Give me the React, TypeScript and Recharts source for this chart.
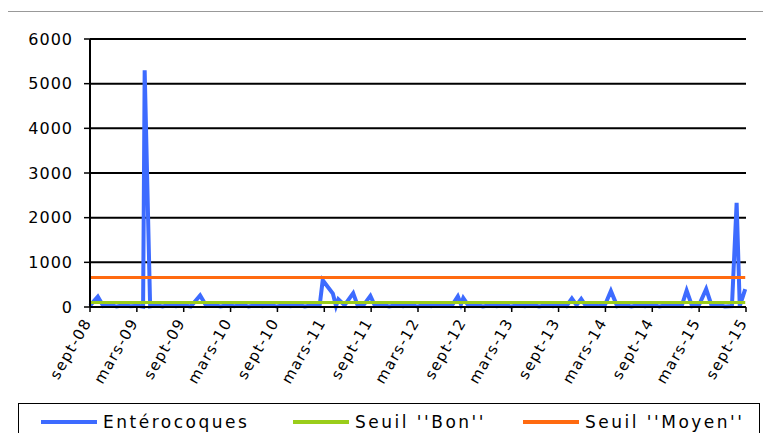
import { CartesianGrid, Line, LineChart, XAxis, YAxis } from 'recharts';

// months counted from sept-08 (0) to sept-15 (84)
const mois = [
    0, 1.0, 1.7, 2.6, 3.4, 4.3, 5.2, 6.1, 6.8, 7.0, 7.7, 8.5, 9.3, 10.2, 11.0, 12.0, 12.9, 14.1, 14.9, 15.8,
    16.7, 17.6, 18.5, 19.4, 20.3, 21.2, 22.1, 23.0, 23.9, 24.8, 25.7, 26.6, 27.5, 28.4, 29.4, 29.8, 31.1, 31.5,
    31.8, 32.6, 33.7, 34.3, 35.1, 35.9, 36.5, 37.4, 38.3, 39.2, 40.1, 41.0, 41.9, 42.8, 43.7, 44.6, 45.5, 46.4,
    47.1, 47.5, 47.8, 48.5, 49.4, 50.3, 51.2, 52.1, 53.0, 53.9, 54.8, 55.7, 56.6, 57.5, 58.4, 59.3, 60.2, 61.0,
    61.7, 62.3, 62.9, 63.5, 64.3, 65.2, 65.9, 66.7, 67.5, 68.4, 69.3, 70.2, 71.1, 72.0, 72.9, 73.8, 74.7, 75.8,
    76.4, 77.1, 78.0, 78.9, 79.6, 80.4, 81.3, 82.2, 82.8, 83.2, 83.9,
];

const enterocoques = [
    30, 230, 20, 50, 10, 40, 15, 30, 10, 5300, 15, 40, 10, 50, 20, 40, 10, 260, 20, 50,
    10, 40, 15, 60, 10, 40, 20, 60, 10, 40, 20, 50, 10, 40, 20, 600, 300, 20,
    170, 40, 310, 20, 60, 250, 20, 50, 10, 40, 20, 60, 10, 40, 20, 70, 30, 50,
    240, 60, 200, 20, 50, 10, 40, 20, 60, 10, 40, 20, 50, 10, 40, 20, 60, 20,
    190, 40, 180, 20, 50, 20, 30, 360, 20, 50, 10, 40, 20, 60, 10, 40, 20, 40,
    370, 20, 50, 400, 30, 50, 10, 20, 2330, 20, 400,
];

const seuilBon = 100;
const seuilMoyen = 660;

const tickLabels = [
    'sept-08', 'mars-09', 'sept-09', 'mars-10', 'sept-10', 'mars-11', 'sept-11', 'mars-12',
    'sept-12', 'mars-13', 'sept-13', 'mars-14', 'sept-14', 'mars-15', 'sept-15',
];
const xTicks = tickLabels.map((_, i) => i * 6);
const yTicks = [0, 1000, 2000, 3000, 4000, 5000, 6000];

const data = mois.map((m, i) => ({
    m,
    ent: enterocoques[i],
    bon: seuilBon,
    moyen: seuilMoyen,
}));

const FONT = '"DejaVu Sans", sans-serif';

function XTick({ x, y, payload }: any) {
    return (
        <g transform={`translate(${x + 2},${y + 10}) rotate(-60)`}>
            <text x={0} y={0} textAnchor="end" fontSize={15} fontFamily={FONT} letterSpacing={1.5} fill="#000">
                {tickLabels[Math.round(payload.value / 6)]}
            </text>
        </g>
    );
}

const legendItems = [
    { label: 'Entérocoques', color: '#3D6BFF', left: 22 },
    { label: "Seuil ''Bon''", color: '#9ACD1A', left: 274 },
    { label: "Seuil ''Moyen''", color: '#FF6A10', left: 504 },
];

export default function App() {
    return (
        <div style={{ margin: -8, width: 771, height: 441, overflow: 'hidden', position: 'relative', background: '#fff' }}>
            <div style={{ position: 'absolute', left: 0, top: 0 }}>
                <LineChart width={771} height={400} data={data} margin={{ top: 39, right: 25, left: 0, bottom: 0 }}>
                    <CartesianGrid vertical={false} stroke="#000" strokeWidth={2} />
                    <XAxis
                        dataKey="m"
                        type="number"
                        domain={[0, 84]}
                        ticks={xTicks}
                        interval={0}
                        tick={<XTick />}
                        tickSize={5}
                        tickMargin={0}
                        height={93}
                        axisLine={{ stroke: '#000', strokeWidth: 2 }}
                        tickLine={{ stroke: '#000', strokeWidth: 1.5 }}
                    />
                    <YAxis
                        type="number"
                        domain={[0, 6000]}
                        ticks={yTicks}
                        interval={0}
                        width={90}
                        tickSize={6}
                        tickMargin={11}
                        tick={{ fill: '#000', fontSize: 16, fontFamily: FONT, letterSpacing: 1 }}
                        axisLine={{ stroke: '#000', strokeWidth: 2 }}
                        tickLine={{ stroke: '#000', strokeWidth: 1.5 }}
                    />
                    <Line
                        type="linear"
                        dataKey="ent"
                        name="Entérocoques"
                        stroke="#3D6BFF"
                        strokeWidth={4}
                        dot={false}
                        isAnimationActive={false}
                    />
                    <Line
                        type="linear"
                        dataKey="bon"
                        name="Seuil ''Bon''"
                        stroke="#9ACD1A"
                        strokeWidth={3}
                        dot={false}
                        isAnimationActive={false}
                    />
                    <Line
                        type="linear"
                        dataKey="moyen"
                        name="Seuil ''Moyen''"
                        stroke="#FF6A10"
                        strokeWidth={3}
                        dot={false}
                        isAnimationActive={false}
                    />
                </LineChart>
            </div>
            <div style={{ position: 'absolute', left: 4, top: 11, width: 780, height: 1, background: '#999' }} />
            <div style={{ position: 'absolute', left: 4, top: 11, width: 2, height: 440, background: '#999' }} />
            <div
                style={{
                    position: 'absolute',
                    left: 18,
                    top: 403,
                    width: 740,
                    height: 36,
                    border: '1.5px solid #000',
                    fontFamily: FONT,
                    fontSize: 17,
                    letterSpacing: 2.5,
                }}
            >
                {legendItems.map((it) => (
                    <div
                        key={it.label}
                        style={{ position: 'absolute', left: it.left, top: 0, height: 36, display: 'flex', alignItems: 'center' }}
                    >
                        <span style={{ display: 'inline-block', width: 56, height: 3.5, background: it.color, marginRight: 6 }} />
                        <span>{it.label}</span>
                    </div>
                ))}
            </div>
        </div>
    );
}
